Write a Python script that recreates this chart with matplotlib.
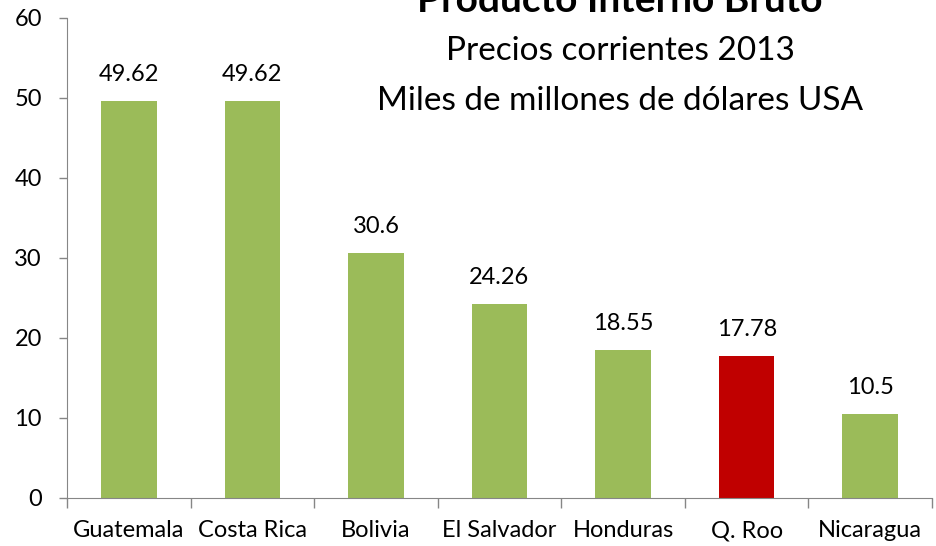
import matplotlib
matplotlib.use("Agg")
import matplotlib.pyplot as plt

categories = ["Guatemala", "Costa Rica", "Bolivia", "El Salvador", "Honduras", "Q. Roo", "Nicaragua"]
values = [49.62, 49.62, 30.6, 24.26, 18.55, 17.78, 10.5]
labels = ["49.62", "49.62", "30.6", "24.26", "18.55", "17.78", "10.5"]
colors = ["#9BBB59", "#9BBB59", "#9BBB59", "#9BBB59", "#9BBB59", "#C00000", "#9BBB59"]
yticks = [0, 10, 20, 30, 40, 50, 60]

plt.rcParams['font.family'] = ['Lato', 'DejaVu Sans']

fig = plt.figure(figsize=(9.36, 5.46), dpi=100)
ax = fig.add_axes([67/936, 48/546, (932-67)/936, (498-18)/546])

x = list(range(len(categories)))
ax.bar(x, values, width=0.45, color=colors)
for xi, v, l in zip(x, values, labels):
    ax.annotate(l, (xi, v), xytext=(0, 19), textcoords="offset points",
                ha="center", va="center", fontsize=17)

ax.set_xlim(-0.5, len(categories) - 0.5)
ax.set_ylim(0, 60)
ax.set_yticks(yticks)
ax.set_yticklabels([str(t) for t in yticks], fontsize=17)
ax.set_xticks(x)
ax.set_xticklabels(categories, fontsize=17)
ax.tick_params(axis='x', length=0, pad=16)
ax.set_xticks([i - 0.5 for i in range(len(categories) + 1)], minor=True)
ax.tick_params(axis='x', which='minor', length=7, color="#868686", width=1)
ax.tick_params(axis='y', length=6, color="#868686", width=1, pad=12)
for s in ["top", "right"]:
    ax.spines[s].set_visible(False)
for s in ["left", "bottom"]:
    ax.spines[s].set_color("#868686")

fig.text(620/936, 1 - 12/546, "Producto Interno Bruto", ha="center", va="baseline",
         fontsize=28, fontweight="bold")
fig.text(620/936, 1 - 51/546, "Precios corrientes 2013", ha="center", va="center", fontsize=24)
fig.text(620/936, 1 - 101/546, "Miles de millones de dólares USA", ha="center", va="center", fontsize=24)

fig.savefig("out.png", dpi=100)
